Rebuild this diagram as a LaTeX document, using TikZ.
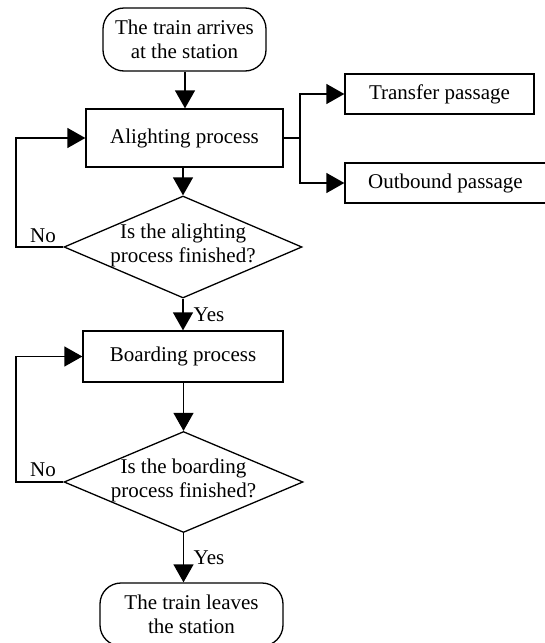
\documentclass[tikz,border=0pt]{standalone}
\usepackage{fontspec}
\setmainfont{Liberation Serif}
\usetikzlibrary{shapes.geometric,arrows.meta}
\begin{document}
\begin{tikzpicture}[x=1pt,y=-1pt,
  every node/.style={font=\fontsize{21}{24}\selectfont},
  base/.style={draw,line width=1.3pt,inner sep=0pt,align=center},
  terminal/.style={base,rounded corners=21pt},
  process/.style={base,rectangle},
  decision/.style={base,diamond},
  flow/.style={line width=1.3pt,-{Triangle[length=18pt,width=20pt]}},
  link/.style={line width=1.3pt}]
\useasboundingbox (0,0) rectangle (544,643);

% nodes
\node[terminal,minimum width=163pt,minimum height=63pt] (start) at (184.5,39.5) {The train arrives\\at the station};
\node[process,minimum width=197pt,minimum height=58pt] (alight) at (184.5,138) {Alighting process};
\node[process,minimum width=189pt,minimum height=40pt] (transfer) at (439.5,94) {Transfer passage};
\node[process,minimum width=201pt,minimum height=40pt] (outbound) at (445.5,183) {Outbound passage};
\node[decision,minimum width=238pt,minimum height=102pt] (d1) at (183,247) {};
\node (d1t) at (183,245) [align=center] {Is the alighting\\process finished?};
\node[process,minimum width=200pt,minimum height=51pt] (board) at (183,356.5) {Boarding process};
\node[decision,minimum width=239pt,minimum height=101pt] (d2) at (183.5,482) {};
\node (d2t) at (183.5,480) [align=center] {Is the boarding\\process finished?};
\node[terminal,minimum width=183pt,minimum height=63pt] (finish) at (191.5,614.5) {The train leaves\\the station};

% loop-back corners and branch point
\coordinate (loopA) at (16,0);
\coordinate (split) at (300,0);

% main flow
\draw[flow] (start.south -| 185,0) -- (alight.north -| 185,0);
\draw[flow] (alight.south -| d1.north) -- (d1.north);
\draw[flow] (d1.south) -- (board.north -| d1.south);
\draw[flow] (board.south -| d2.north) -- (d2.north);
\draw[flow] (d2.south) -- (d2.south |- finish.north);

% branches to the two passages
\draw[link] (alight.east) -- (alight.east -| split);
\draw[flow] (alight.east -| split) |- (transfer.west);
\draw[flow] (alight.east -| split) |- (outbound.west);

% "No" loops
\draw[flow] (d1.west) -- (d1.west -| loopA) |- (alight.west);
\draw[flow] (d2.west) -- (d2.west -| loopA) |- (board.west);

% labels
\node (no1) at (43,236) {No};
\node (no2) at (43,470) {No};
\node (yes1) at (209,315) {Yes};
\node (yes2) at (209,558) {Yes};
\end{tikzpicture}
\end{document}
